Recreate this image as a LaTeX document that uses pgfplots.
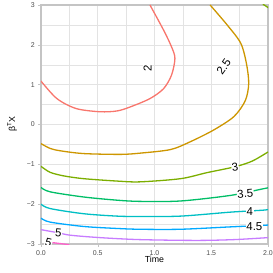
\documentclass[border=0pt]{standalone}
\usepackage{pgfplots}
\pgfplotsset{compat=1.18}
\usepackage{fontspec}
\setmainfont{Liberation Sans}
\definecolor{c1}{HTML}{F8766D}
\definecolor{c2}{HTML}{CD9600}
\definecolor{c3}{HTML}{7CAE00}
\definecolor{c4}{HTML}{00BE67}
\definecolor{c5}{HTML}{00BFC4}
\definecolor{c6}{HTML}{00A9FF}
\definecolor{c7}{HTML}{C77CFF}
\definecolor{c8}{HTML}{FF61CC}
\definecolor{gridc}{HTML}{E3E3E3}
\definecolor{borderc}{HTML}{C4C4C4}
\definecolor{tickc}{HTML}{4D4D4D}
\begin{document}
\begin{tikzpicture}[x=1bp,y=1bp]
\useasboundingbox (0,0) rectangle (273,273);
\begin{axis}[at={(41bp,29bp)}, anchor=south west, scale only axis,
  width=227bp, height=239bp,
  xmin=0, xmax=2, ymin=-3, ymax=3,
  xtick={0,0.5,1,1.5,2}, xticklabels={0.0,0.5,1.0,1.5,2.0},
  ytick={-3,-2,-1,0,1,2,3}, yticklabels={−3,−2,−1,0,1,2,3},
  minor xtick={0.25,0.75,1.25,1.75}, minor ytick={-2.5,-1.5,-0.5,0.5,1.5,2.5},
  grid=both,
  major grid style={color=gridc, line width=0.6bp},
  minor grid style={color=gridc, line width=0.3bp},
  axis line style={draw=borderc, line width=1.2bp},
  xtick pos=bottom, ytick pos=left,
  tick style={color=borderc, line width=0.5bp},
  tick align=outside, major tick length=2.7bp, minor tick length=0bp,
  ticklabel style={font=\fontsize{7}{8}\selectfont, text=tickc},
  xlabel={Time},
  label style={font=\fontsize{8.8}{10}\selectfont},
  xlabel style={at={(axis description cs:0.5,-0.0774)}, anchor=base},
  clip=true,
]
% contour 2
\addplot[c1, line width=1.3bp, smooth] coordinates {
(0,1.09) (0.14,0.65) (0.31,0.40) (0.52,0.32) (0.67,0.34) (0.785,0.44) (0.96,0.65) (1.08,0.90) (1.15,1.24) (1.18,1.66) (1.15,1.95) (1.08,2.37) (0.96,3.0)};
% contour 2.5
\addplot[c2, line width=1.3bp, smooth] coordinates {
(0,-0.48) (0.08,-0.60) (0.17,-0.66) (0.376,-0.73) (0.70,-0.75) (0.87,-0.72) (1.14,-0.63) (1.31,-0.44) (1.52,-0.14) (1.70,0.20) (1.80,0.60) (1.83,1.03) (1.81,1.53) (1.76,2.04) (1.64,2.50) (1.49,3.0)};
% contour 3
\addplot[c3, line width=1.3bp, smooth] coordinates {
(0,-1.05) (0.08,-1.20) (0.2,-1.29) (0.376,-1.36) (0.67,-1.42) (0.87,-1.44) (1.23,-1.36) (1.46,-1.21) (1.71,-1.06) (1.86,-0.92) (2,-0.69)};
\addplot[c3, line width=1.3bp] coordinates {(1.955,3.02) (2.01,2.92)};
% contour 3.5
\addplot[c4, line width=1.3bp, smooth] coordinates {
(0,-1.58) (0.08,-1.69) (0.376,-1.82) (0.67,-1.90) (0.87,-1.93) (1.23,-1.92) (1.67,-1.78) (1.93,-1.63) (2,-1.59)};
% contour 4
\addplot[c5, line width=1.3bp, smooth] coordinates {
(0,-2.0) (0.08,-2.11) (0.376,-2.24) (0.67,-2.30) (0.87,-2.31) (1.23,-2.30) (1.67,-2.20) (1.96,-2.15) (2,-2.13)};
% contour 4.5
\addplot[c6, line width=1.3bp, smooth] coordinates {
(0,-2.35) (0.08,-2.45) (0.376,-2.56) (0.67,-2.61) (0.87,-2.63) (1.23,-2.63) (1.67,-2.57) (1.97,-2.53) (2,-2.52)};
% contour 5
\addplot[c7, line width=1.3bp, smooth] coordinates {
(0,-2.64) (0.154,-2.72) (0.26,-2.78) (0.52,-2.84) (0.87,-2.89) (1.37,-2.91) (1.7,-2.89) (2,-2.84)};
% contour 5.5
\addplot[c8, line width=1.3bp] coordinates {(0.10,-2.965) (0.2,-3.0) (0.25,-3.02)};
% labels
\begin{scope}[every node/.style={fill=white, inner sep=0.5bp, font=\fontsize{11.5}{12}\selectfont}]
\node[rotate=90] at (axis cs:0.94,1.42) {2};
\node[rotate=55] at (axis cs:1.61,1.45) {2.5};
\node[rotate=8] at (axis cs:1.71,-1.06) {3};
\node[rotate=5] at (axis cs:1.80,-1.74) {3.5};
\node at (axis cs:1.84,-2.18) {4};
\node at (axis cs:1.88,-2.56) {4.5};
\node[rotate=-5] at (axis cs:0.154,-2.72) {5};
\node[rotate=-15] at (axis cs:0.065,-2.96) {5};
\end{scope}
\end{axis}
\node[rotate=90, font=\fontsize{8.8}{10}\selectfont] at (12,149) {β\textsuperscript{T}X};
\end{tikzpicture}
\end{document}
